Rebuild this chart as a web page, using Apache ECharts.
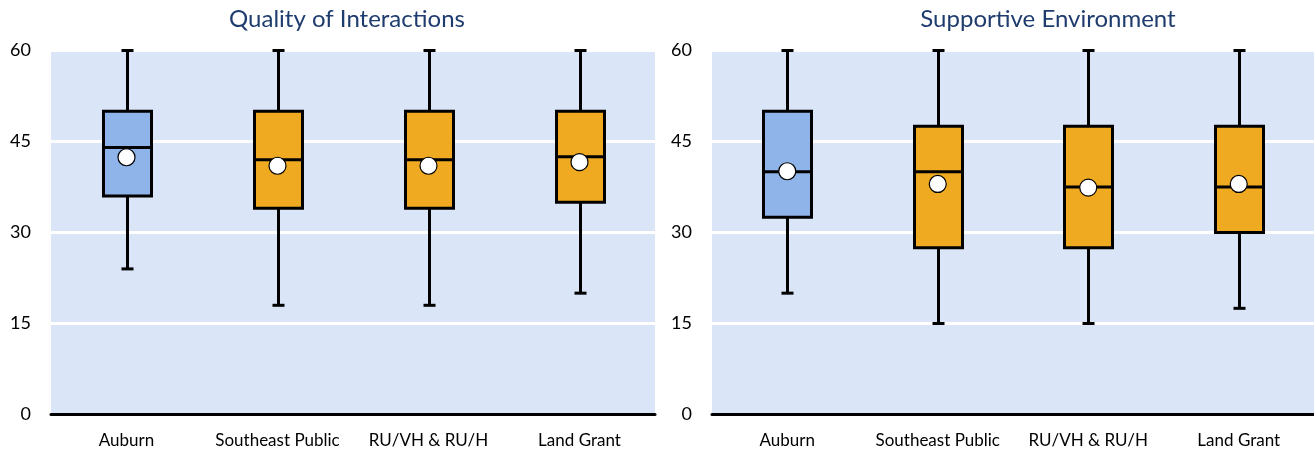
<!DOCTYPE html>
<html>
<head>
<meta charset="utf-8">
<script src="https://cdn.jsdelivr.net/npm/echarts@6/dist/echarts.min.js"></script>
<style>
  html, body { margin: 0; padding: 0; background: #ffffff; }
  #chart { width: 1314px; height: 450px; }
</style>
</head>
<body>
<div id="chart"></div>
<script>
// Institution groups shown on both panels
const categories = ['Auburn', 'Southeast Public', 'RU/VH & RU/H', 'Land Grant'];

// Five-number summaries: [min, Q1, median, Q3, max]
const interactionsBox = [
  [24, 36, 44, 50, 60],
  [18, 34, 42, 50, 60],
  [18, 34, 42, 50, 60],
  [20, 35, 42.5, 50, 60]
];
const interactionsMean = [42.4, 41, 41, 41.6];

const environmentBox = [
  [20, 32.5, 40, 50, 60],
  [15, 27.5, 40, 47.5, 60],
  [15, 27.5, 37.5, 47.5, 60],
  [17.5, 30, 37.5, 47.5, 60]
];
const environmentMean = [40.1, 38, 37.4, 38];

const panelTitles = ['Quality of Interactions', 'Supportive Environment'];
const yTicks = { min: 0, max: 60, step: 15 };

const FONT = 'Lato, "Open Sans", sans-serif';
const boxFill = ['#8EB4E9', '#EFAA22', '#EFAA22', '#EFAA22'];

function boxRows(box) {
  return box.map((b, i) => [i].concat(b));
}

function renderBox(params, api) {
  const i = api.value(0);
  const lo = api.coord([i, api.value(1)]);
  const q1 = api.coord([i, api.value(2)]);
  const med = api.coord([i, api.value(3)]);
  const q3 = api.coord([i, api.value(4)]);
  const hi = api.coord([i, api.value(5)]);
  const cx = Math.round(lo[0]) + 0.5;
  const boxW = 48;
  const capW = 12;
  const line = { stroke: '#000', lineWidth: 3 };
  return {
    type: 'group',
    children: [
      { type: 'line', shape: { x1: cx, y1: hi[1], x2: cx, y2: q3[1] }, style: line },
      { type: 'line', shape: { x1: cx, y1: q1[1], x2: cx, y2: lo[1] }, style: line },
      { type: 'line', shape: { x1: cx - capW / 2, y1: hi[1], x2: cx + capW / 2, y2: hi[1] }, style: line },
      { type: 'line', shape: { x1: cx - capW / 2, y1: lo[1], x2: cx + capW / 2, y2: lo[1] }, style: line },
      {
        type: 'rect',
        shape: { x: cx - boxW / 2, y: q3[1], width: boxW, height: q1[1] - q3[1] },
        style: { fill: boxFill[params.dataIndex], stroke: '#000', lineWidth: 3 }
      },
      { type: 'line', shape: { x1: cx - boxW / 2, y1: med[1], x2: cx + boxW / 2, y2: med[1] }, style: line }
    ]
  };
}

const grids = [
  { left: 51, top: 50.5, width: 604, height: 364 },
  { left: 712, top: 50.5, width: 602, height: 364 }
].map(g => Object.assign(g, { show: true, backgroundColor: '#DAE5F7', borderWidth: 0 }));

const xAxes = [0, 1].map(k => ({
  type: 'category',
  gridIndex: k,
  data: categories,
  axisLine: { show: true, lineStyle: { color: '#000', width: 3 } },
  axisTick: { show: false },
  axisLabel: { interval: 0, color: '#000', fontFamily: FONT, fontSize: 17, margin: 18 },
  splitLine: { show: false }
}));

const yAxes = [0, 1].map(k => ({
  type: 'value',
  gridIndex: k,
  min: yTicks.min,
  max: yTicks.max,
  interval: yTicks.step,
  axisLine: { show: false },
  axisTick: { show: false },
  axisLabel: { color: '#000', fontFamily: FONT, fontSize: 18, margin: 20 },
  splitLine: { show: true, lineStyle: { color: '#ffffff', width: 3 } }
}));

const panels = [
  { box: interactionsBox, mean: interactionsMean },
  { box: environmentBox, mean: environmentMean }
];

const series = [];
panels.forEach((p, k) => {
  series.push({
    type: 'custom',
    xAxisIndex: k,
    yAxisIndex: k,
    clip: false,
    renderItem: renderBox,
    encode: { x: 0, y: [1, 2, 3, 4, 5] },
    data: boxRows(p.box),
    z: 2
  });
  series.push({
    type: 'scatter',
    xAxisIndex: k,
    yAxisIndex: k,
    symbol: 'circle',
    symbolSize: 17,
    itemStyle: { color: '#ffffff', borderColor: '#000', borderWidth: 1.2, opacity: 1 },
    data: p.mean.map((v, i) => [i, v]),
    z: 5
  });
});

const chart = echarts.init(document.getElementById('chart'), null, { renderer: 'canvas' });
chart.setOption({
  animation: false,
  backgroundColor: '#ffffff',
  grid: grids,
  xAxis: xAxes,
  yAxis: yAxes,
  series: series,
  graphic: [
    { type: 'text', x: 347, y: 19, style: { text: panelTitles[0], fill: '#1F3C6E', font: '24px ' + FONT, textAlign: 'center', textVerticalAlign: 'middle' } },
    { type: 'text', x: 1048, y: 19, style: { text: panelTitles[1], fill: '#1F3C6E', font: '24px ' + FONT, textAlign: 'center', textVerticalAlign: 'middle' } }
  ]
});
</script>
</body>
</html>
